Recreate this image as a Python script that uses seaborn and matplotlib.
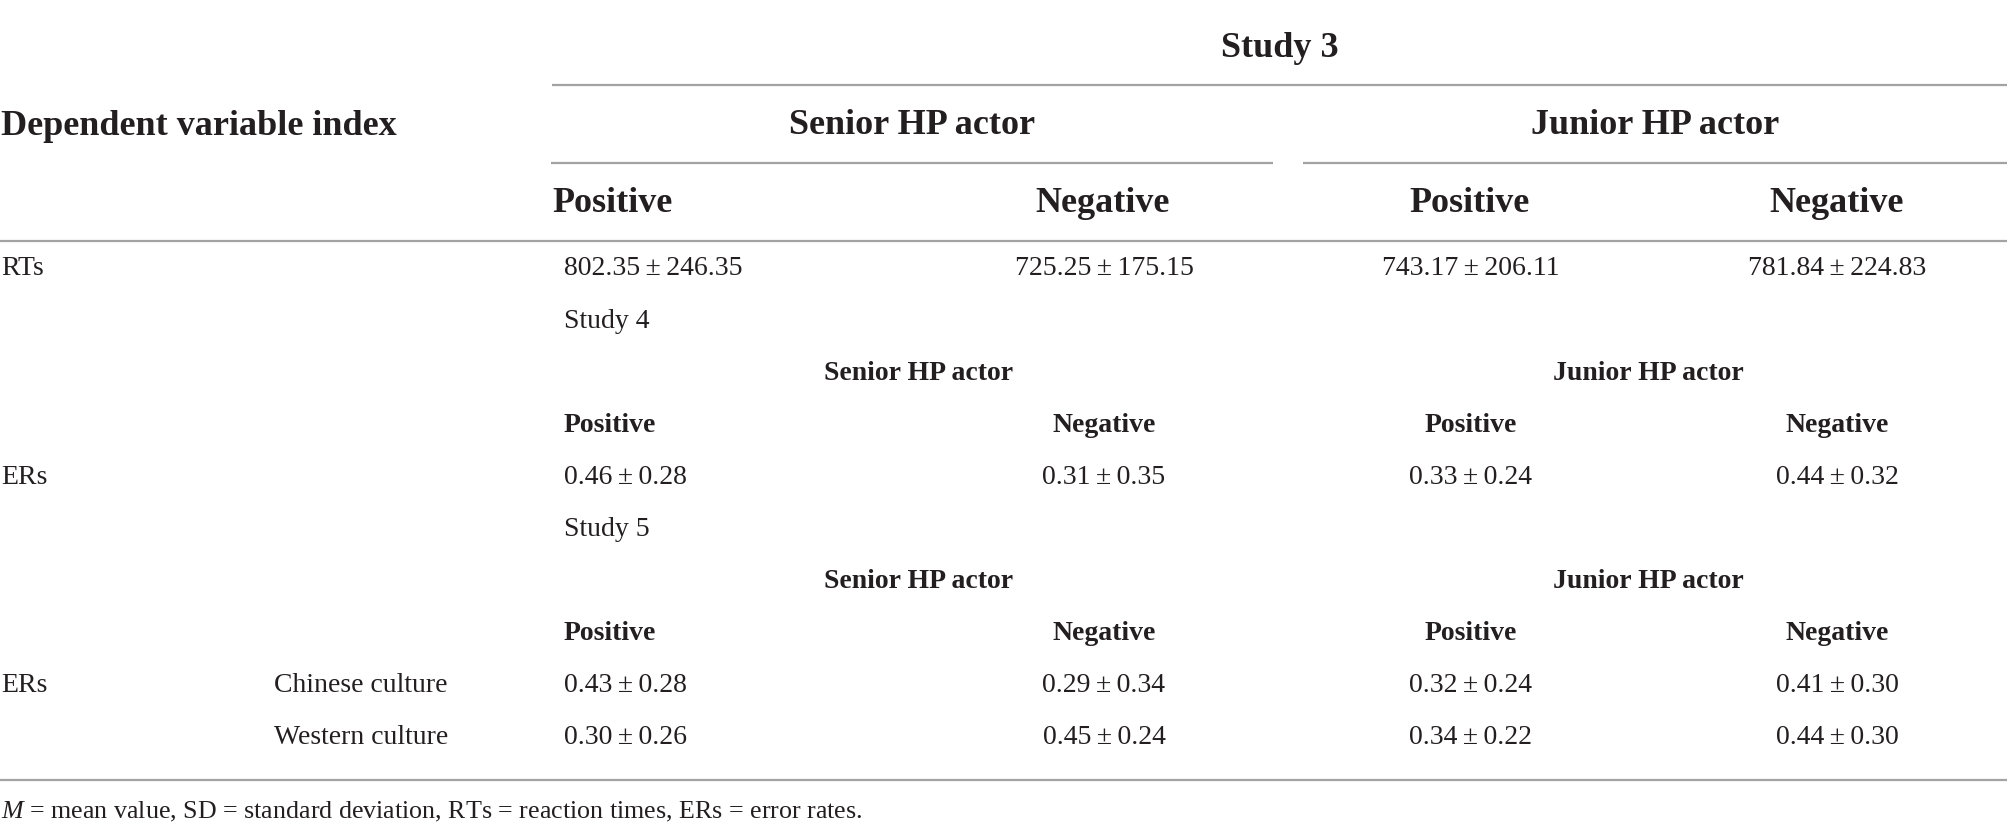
import matplotlib
matplotlib.use("Agg")
import matplotlib.pyplot as plt
import seaborn as sns

# ---------------- data ----------------
study_titles = ["Study 3", "Study 4", "Study 5"]
actor_groups = ["Senior HP actor", "Junior HP actor"]
valences = ["Positive", "Negative"]
row_header = "Dependent variable index"

rt_label = "RTs"
rt_means = [802.35, 725.25, 743.17, 781.84]
rt_sds = [246.35, 175.15, 206.11, 224.83]

er4_label = "ERs"
er4_means = [0.46, 0.31, 0.33, 0.44]
er4_sds = [0.28, 0.35, 0.24, 0.32]

er5_label = "ERs"
cultures = ["Chinese culture", "Western culture"]
er5_chinese_means = [0.43, 0.29, 0.32, 0.41]
er5_chinese_sds = [0.28, 0.34, 0.24, 0.30]
er5_western_means = [0.30, 0.45, 0.34, 0.44]
er5_western_sds = [0.26, 0.24, 0.22, 0.30]

footnote = r"$\mathit{M}$ = mean value, SD = standard deviation, RTs = reaction times, ERs = error rates."

# ---------------- style ----------------
sns.set_theme(style="white")
plt.rcParams["font.family"] = ["Liberation Serif", "DejaVu Serif"]
plt.rcParams["mathtext.fontset"] = "custom"
plt.rcParams["mathtext.rm"] = "Liberation Serif"
plt.rcParams["mathtext.it"] = "Liberation Serif:italic"

TXT = "#231f20"
LINE = "#a3a3a3"
W, H = 2008, 837
fig = plt.figure(figsize=(W / 100, H / 100), dpi=100)
fig.patch.set_facecolor("white")
ax = fig.add_axes([0, 0, 1, 1])
ax.set_xlim(0, W)
ax.set_ylim(H, 0)
ax.axis("off")

HDR = 26
BODY = 20
FOOT = 18.7


def t(x, y, s, size=BODY, weight="normal", ha="left"):
    ax.text(x, y, s, fontsize=size, fontweight=weight, ha=ha, va="baseline", color=TXT)


def fmt(m, s):
    return f"{m:.2f}\u2009±\u2009{s:.2f}"


# column positions
hdr_cols = [(552, "left"), (1103, "center"), (1470, "center"), (1837, "center")]
body_cols = [(564, "left"), (1104, "center"), (1471, "center"), (1837, "center")]

# ---- top header ----
t(1280, 57, study_titles[0], HDR, "bold", "center")
ax.hlines(86, 552, W, color=LINE, lw=1.6)
t(1, 135, row_header, HDR, "bold")
t(912, 134, actor_groups[0], HDR, "bold", "center")
t(1655, 134, actor_groups[1], HDR, "bold", "center")
ax.hlines(164, 551, 1273, color=LINE, lw=1.6)
ax.hlines(164, 1303, W, color=LINE, lw=1.6)
for i, (x, ha) in enumerate(hdr_cols):
    t(x, 212, valences[i % 2], HDR, "bold", ha)
ax.hlines(242, 0, W, color=LINE, lw=1.6)

# ---- Study 3 RTs ----
t(1, 275, rt_label)
for (x, ha), m, s in zip(body_cols, rt_means, rt_sds):
    t(x, 275, fmt(m, s), BODY, "normal", ha)


def sub_header(y0, title):
    t(564, y0, title)
    t(919, y0 + 52, actor_groups[0], BODY, "bold", "center")
    t(1648, y0 + 52, actor_groups[1], BODY, "bold", "center")
    for i, (x, ha) in enumerate(body_cols):
        t(x, y0 + 104, valences[i % 2], BODY, "bold", ha)


# ---- Study 4 ----
sub_header(328, study_titles[1])
t(1, 484, er4_label)
for (x, ha), m, s in zip(body_cols, er4_means, er4_sds):
    t(x, 484, fmt(m, s), BODY, "normal", ha)

# ---- Study 5 ----
sub_header(536, study_titles[2])
t(1, 692, er5_label)
t(274, 692, cultures[0])
t(274, 744, cultures[1])
for (x, ha), m, s in zip(body_cols, er5_chinese_means, er5_chinese_sds):
    t(x, 692, fmt(m, s), BODY, "normal", ha)
for (x, ha), m, s in zip(body_cols, er5_western_means, er5_western_sds):
    t(x, 744, fmt(m, s), BODY, "normal", ha)

ax.hlines(781, 0, W, color=LINE, lw=1.6)
t(1, 818, footnote, FOOT)

fig.savefig("out.png", dpi=100, facecolor="white")
